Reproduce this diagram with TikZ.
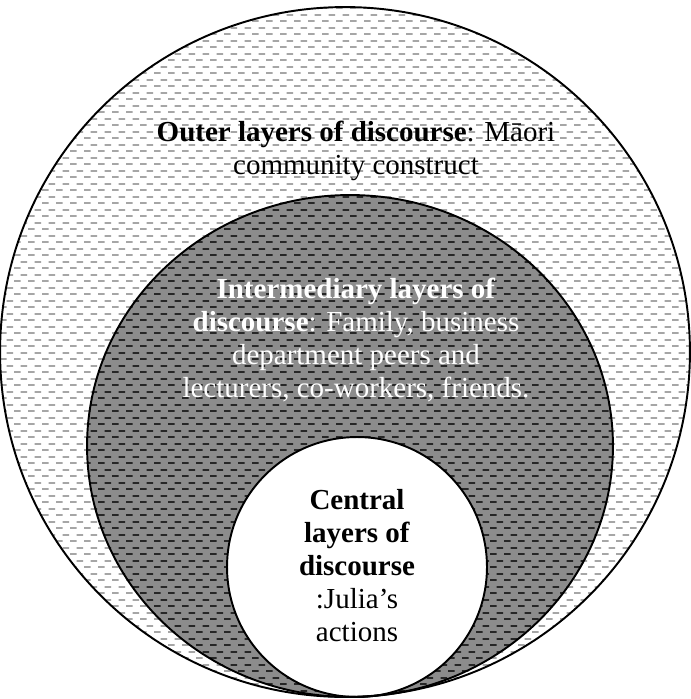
\documentclass[tikz,border=0pt]{standalone}
\usepackage{fontspec}
\setmainfont{Liberation Serif}
\usetikzlibrary{patterns}

% short dashes set like bricks
\pgfdeclarepatternformonly{brickdash}{\pgfqpoint{0pt}{0pt}}{\pgfqpoint{8pt}{7.4pt}}{\pgfqpoint{8pt}{7.4pt}}{%
  \pgfsetlinewidth{1.1pt}%
  \pgfpathmoveto{\pgfqpoint{0pt}{1.85pt}}\pgfpathlineto{\pgfqpoint{4pt}{1.85pt}}%
  \pgfpathmoveto{\pgfqpoint{4pt}{5.55pt}}\pgfpathlineto{\pgfqpoint{8pt}{5.55pt}}%
  \pgfusepath{stroke}}

\tikzset{
  layer/.style={draw=black,line width=1.1pt},
  layertext/.style={align=center,inner sep=0pt,font=\fontsize{16.5}{18.8}\selectfont}
}

\begin{document}
\begin{tikzpicture}[x=0.02cm,y=-0.02cm]
  \useasboundingbox (0,0) rectangle (690,699);
  % outer layer
  \fill[white] (345,352) circle[radius=6.9cm];
  \fill[pattern=brickdash,pattern color=black!35] (345,352) circle[radius=6.9cm];
  % intermediary layer
  \fill[black!45] (350,446) ellipse[x radius=5.26cm,y radius=5.02cm];
  \fill[pattern=brickdash,pattern color=black!85] (350,446) ellipse[x radius=5.26cm,y radius=5.02cm];
  % central layer
  \fill[white] (357,567) circle[radius=2.6cm];
  \draw[layer] (345,352) circle[radius=6.9cm];
  \draw[layer] (350,446) ellipse[x radius=5.26cm,y radius=5.02cm];
  \draw[layer] (357,567) circle[radius=2.6cm];

  \node[layertext] (outer) at (356,151)
    {\textbf{Outer layers of discourse}: Māori\\community construct};
  \node[layertext,text=white] (middle) at (356,340)
    {\textbf{Intermediary layers of}\\\textbf{discourse}: Family, business\\department peers and\\lecturers, co-workers, friends.};
  \node[layertext] (inner) at (357,566)
    {\textbf{Central}\\\textbf{layers of}\\\textbf{discourse}\\:Julia’s\\actions};
\end{tikzpicture}
\end{document}
